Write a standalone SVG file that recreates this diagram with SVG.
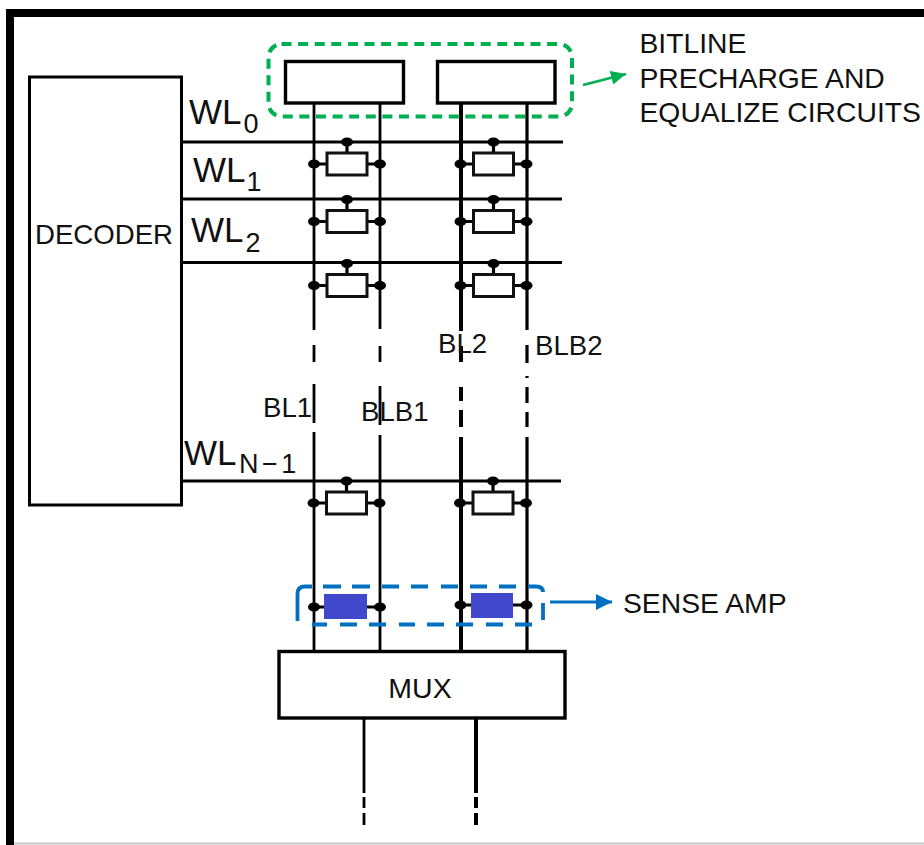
<svg xmlns="http://www.w3.org/2000/svg" xmlns:xlink="http://www.w3.org/1999/xlink" width="924" height="845" viewBox="0 0 924 845">
<style>
text{font-family:"Liberation Sans",Arial,sans-serif;font-size:27.6px;fill:#111}
.note{font-size:28.3px}
.wl{font-size:35px}
.sub{font-size:27px}
.box{fill:#fff;stroke:#000;stroke-width:3.4}
.thin{stroke:#000;stroke-width:2.8;fill:none}
.thick{stroke:#000;stroke-width:4;fill:none}
.mid{stroke:#000;stroke-width:3.2;fill:none}
.cellbody{fill:#fff;stroke:#111;stroke-width:3}
.sa{fill:#4148CC}
.dot{fill:#000}
</style>
<defs>
<g id="cell">
<path class="mid" d="M-33 0H-20M20 0H33M0 -22V-11"/>
<rect class="cellbody" x="-20" y="-11" width="40" height="22"/>
<ellipse class="dot" cx="0" cy="-22" rx="6" ry="4.500"/>
<ellipse class="dot" cx="-33" cy="0" rx="6" ry="4.500"/>
<ellipse class="dot" cx="33" cy="0" rx="6" ry="4.500"/>
</g>
<g id="sadots">
<path class="mid" d="M-33 0H33"/>
<ellipse class="dot" cx="-33" cy="0" rx="6" ry="4.500"/>
<ellipse class="dot" cx="33" cy="0" rx="6" ry="4.500"/>
</g>
<marker id="ah-green" markerUnits="userSpaceOnUse" markerWidth="16" markerHeight="14" refX="15" refY="7" orient="auto"><path d="M0 0L15 7L0 14Z" fill="#00B050"/></marker>
<marker id="ah-blue" markerUnits="userSpaceOnUse" markerWidth="16" markerHeight="16" refX="16" refY="8" orient="auto"><path d="M0 0L16 8L0 16Z" fill="#0070C0"/></marker>
</defs>

<rect width="924" height="845" fill="#fff"/>
<g id="frame">
<path d="M14 843.500H924" stroke="#c8c8c8" stroke-width="2" fill="none"/>
<path d="M6 845V9H924V17H14V845Z" fill="#000"/>
</g>

<g id="precharge-highlight">
<rect x="268.500" y="44" width="303.500" height="72.500" rx="13" fill="none" stroke="#00B050" stroke-width="4" stroke-dasharray="10 6.600"/>
</g>

<g id="connectors">
<path class="mid" d="M182 142H563M182 199H562M182 262.500H562M182 481H561"/>
<path class="thin" d="M314 103V330M314 345V362M314 384V423M314 432V651M380 103V329M380 346V362M380 386V425M380 435V651"/>
<path class="thick" d="M461 103V331M461 346V362M461 387V401M461 410V427M461 437V651"/>
<path class="mid" d="M527 103V330M527 345V363M527 376V378M527 387V403M527 412V427M527 437V651"/>
<path class="thin" d="M364 718V793M364 797V808M364 813V825"/>
<path class="thick" d="M476 718V793M476 797V808M476 813V825"/>
<path d="M583 85L626 74" stroke="#00B050" stroke-width="2.800" fill="none" marker-end="url(#ah-green)"/>
<path d="M550 602H612" stroke="#0070C0" stroke-width="2.800" fill="none" marker-end="url(#ah-blue)"/>
</g>

<g id="precharge-1"><rect class="box" x="285.500" y="61.500" width="118" height="41.500"/></g>
<g id="precharge-2"><rect class="box" x="437.500" y="61.500" width="117.500" height="41.500"/></g>

<g id="decoder">
<rect class="box" x="29.500" y="77" width="152" height="428" style="stroke-width:3"/>
<text x="35" y="244">DECODER</text>
</g>

<g id="cell-0-1"><use href="#cell" x="347" y="164"/></g>
<g id="cell-0-2"><use href="#cell" x="347" y="221.500"/></g>
<g id="cell-0-3"><use href="#cell" x="347" y="285.500"/></g>
<g id="cell-0-4"><use href="#cell" x="346.500" y="503"/></g>
<g id="cell-1-1"><use href="#cell" x="493.500" y="164"/></g>
<g id="cell-1-2"><use href="#cell" x="493.500" y="221.500"/></g>
<g id="cell-1-3"><use href="#cell" x="493.500" y="285.500"/></g>
<g id="cell-1-4"><use href="#cell" x="493" y="503"/></g>

<g id="sense-amp-1">
<use href="#sadots" x="347" y="607"/>
<rect class="sa" x="324" y="594" width="43" height="25"/>
</g>
<g id="sense-amp-2">
<use href="#sadots" x="493.500" y="605"/>
<rect class="sa" x="471" y="593" width="42" height="25"/>
</g>
<g id="sense-highlight">
<path fill="none" stroke="#0070C0" stroke-width="3.800" d="M297.500 621V594Q297.500 586.500 305 586.500H312M323 586.500H341M352 586.500H370M382 586.500H399M411 586.500H428M441 586.500H458M470 586.500H487M499 586.500H516M528 586.500H536Q543 586.500 543 592M543 603V620M312 624.500H327M340 624.500H357M369 624.500H386M399 624.500H415M427 624.500H444M456 624.500H473M486 624.500H503M515 624.500H532"/>
</g>

<g id="mux">
<rect class="box" x="279" y="651.500" width="286" height="66.500"/>
<text x="420" y="698" text-anchor="middle" style="font-size:28.500px">MUX</text>
</g>

<g id="labels">
<text class="wl" x="189" y="124">WL</text><text class="sub" x="243.500" y="133">0</text>
<text class="wl" x="193" y="182">WL</text><text class="sub" x="246.500" y="191">1</text>
<text class="wl" x="191" y="242">WL</text><text class="sub" x="245.500" y="252">2</text>
<text class="wl" x="184" y="465">WL</text><text class="sub" x="239" y="473" letter-spacing="3.500">N−1</text>
<text x="263" y="417">BL1</text>
<text x="361" y="421">BLB1</text>
<text x="438" y="353">BL2</text>
<text x="535" y="355">BLB2</text>
<text class="note" x="639.500" y="53">BITLINE</text>
<text class="note" x="639.500" y="88">PRECHARGE AND</text>
<text class="note" x="639.500" y="122">EQUALIZE CIRCUITS</text>
<text class="note" x="623" y="613">SENSE AMP</text>
</g>
</svg>
